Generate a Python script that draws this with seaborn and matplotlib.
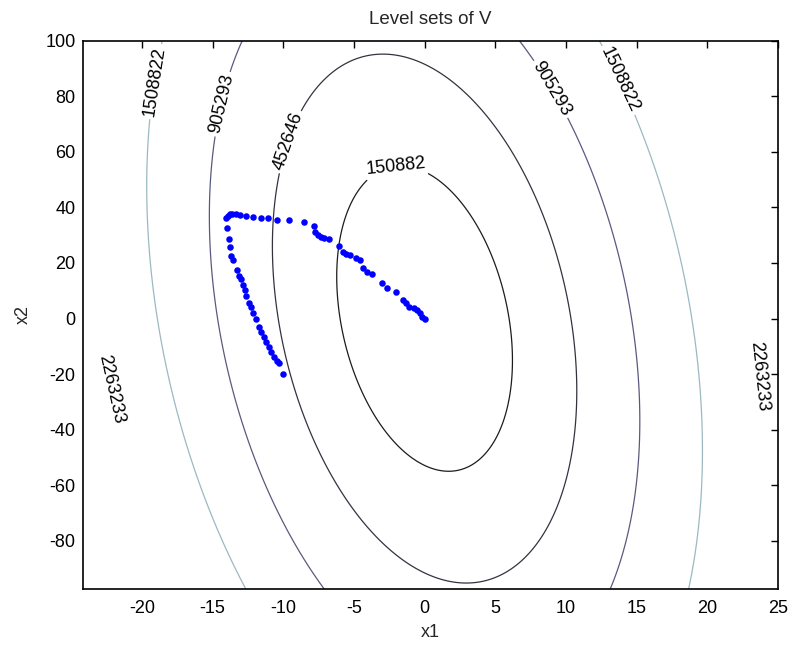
import numpy as np
import pandas as pd
import matplotlib
matplotlib.use("Agg")
import matplotlib.pyplot as plt
import seaborn as sns

# Quadratic form V(x) = x' P x
P11, P12, P22 = 4221.0, 130.8, 54.05
levels = [150882, 452646, 905293, 1508822, 2263233]
level_colors = ["#1c1c1c", "#333340", "#5a5a7e", "#9cb9c2", "#ffffff"]

# contour label positions (x1, x2)
label_x1 = [-2.0, -9.8, -14.1, -18.7, 8.6, 14.1, -22.6, 23.4]
label_x2 = [55.0, 64.0, 76.9, 85.0, 81.5, 86.6, -26.0, -21.0]

# trajectory samples
traj_x1 = [-10.0, -10.27, -10.46, -10.62, -10.85, -11.02, -11.2, -11.37, -11.56, -11.68,
           -11.96, -12.15, -12.26, -12.43, -12.62, -12.74, -12.86, -12.97, -13.1, -13.28,
           -13.56, -13.67, -13.74, -13.84, -13.98, -14.03, -13.9, -13.79, -13.6, -13.37,
           -13.09, -12.67, -12.15, -11.56, -11.09, -10.46, -9.56, -8.5, -7.8, -7.73,
           -7.56, -7.33, -7.09, -6.79, -6.04, -5.8, -5.56, -5.28, -4.86, -4.58,
           -4.39, -4.04, -3.69, -2.98, -2.63, -2.04, -1.52, -1.33, -1.1, -0.75,
           -0.51, -0.35, -0.16, 0.0]
traj_x2 = [-19.8, -16.0, -15.1, -13.7, -11.9, -10.1, -8.6, -6.5, -4.7, -2.9,
           -0.2, 1.9, 4.0, 5.5, 8.2, 10.3, 12.1, 14.2, 15.4, 17.3,
           21.1, 22.6, 25.7, 28.6, 32.5, 36.1, 36.9, 37.5, 37.7, 37.5,
           37.4, 36.9, 36.7, 36.1, 36.1, 35.5, 35.5, 34.9, 33.3, 31.3,
           30.1, 29.5, 28.9, 28.6, 26.2, 24.1, 23.3, 22.8, 21.7, 20.9,
           18.3, 16.9, 16.1, 12.9, 10.9, 9.7, 6.7, 5.5, 4.3, 3.7,
           3.1, 1.9, 0.7, 0.0]

xticks = [-20, -15, -10, -5, 0, 5, 10, 15, 20, 25]
yticks = [-80, -60, -40, -20, 0, 20, 40, 60, 80, 100]
xlim = (-24.2, 25.0)
ylim = (-97.3, 100.0)

sns.set_style("white")
plt.rcParams["font.family"] = ["Liberation Sans", "DejaVu Sans"]
plt.rcParams["axes.unicode_minus"] = False

fig = plt.figure(figsize=(7.89, 6.45), dpi=100)
ax = fig.add_axes([0.1046, 0.0868, 0.8814, 0.8502])

gx = np.linspace(xlim[0], xlim[1], 400)
gy = np.linspace(ylim[0], ylim[1], 400)
X, Y = np.meshgrid(gx, gy)
V = P11 * X**2 + 2 * P12 * X * Y + P22 * Y**2

cs = ax.contour(X, Y, V, levels=levels, colors=level_colors, linewidths=0.9)
ax.clabel(cs, levels, inline=True, fmt="%d", fontsize=13, colors="black",
          manual=list(zip(label_x1, label_x2)), inline_spacing=3)

df = pd.DataFrame({"x1": traj_x1, "x2": traj_x2})
sns.scatterplot(data=df, x="x1", y="x2", ax=ax, color="#0000ff", s=22,
                linewidth=0, zorder=3)

ax.set_xlim(*xlim)
ax.set_ylim(*ylim)
ax.set_xticks(xticks)
ax.set_yticks(yticks)
ax.tick_params(axis="both", direction="in", length=5, width=1, colors="black",
               top=True, right=True, labelsize=13)
ax.tick_params(axis="x", pad=8)
ax.tick_params(axis="y", pad=5)
for sp in ax.spines.values():
    sp.set_color("black")
    sp.set_linewidth(1.2)

ax.set_title("Level sets of V", fontsize=13.5, pad=12)
ax.set_xlabel("x1", fontsize=13, labelpad=5)
ax.set_ylabel("x2", fontsize=13, labelpad=10)

fig.savefig("out.png", dpi=100)
